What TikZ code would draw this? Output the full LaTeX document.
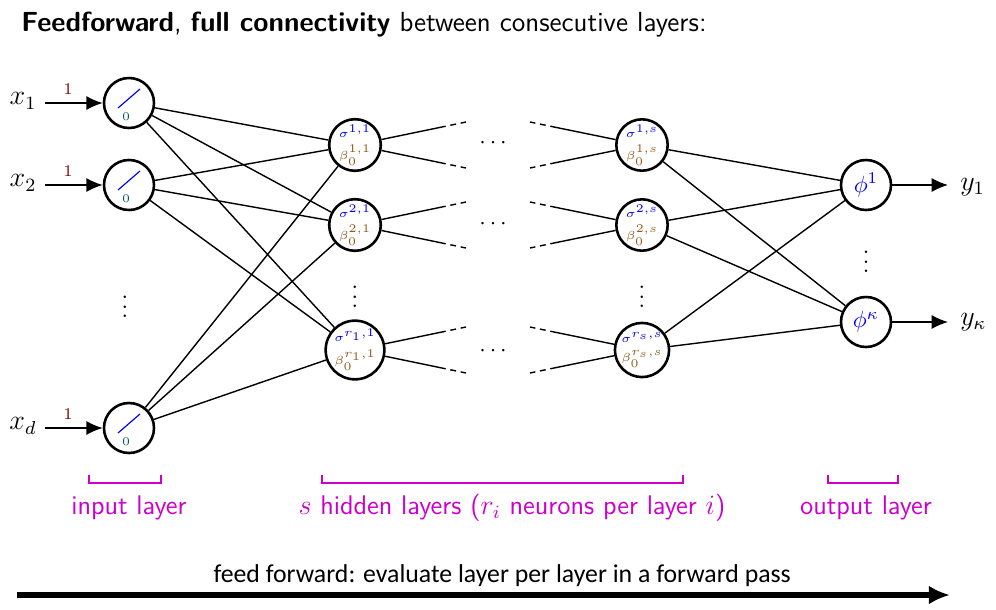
\documentclass[tikz,border=0pt]{standalone}
\usepackage{amsmath}
\usepackage{fontspec}
\newfontfamily\passfont{Carlito}
\usetikzlibrary{calc, positioning}
\usetikzlibrary{arrows.meta}

\definecolor{layermag}{RGB}{204,0,204}
\definecolor{wred}{RGB}{128,0,0}
\definecolor{betacol}{RGB}{140,90,20}
\definecolor{biascol}{RGB}{0,80,110}

\newcommand{\neurlab}[1]{\shortstack{$\color{blue}\sigma^{#1}$\\[0.5pt]$\color{betacol}\beta_0^{#1}$}}

\tikzset{
  neuron/.style={circle, draw, line width=1.1pt, minimum size=0.75cm, inner sep=0pt},
  conn/.style={line width=0.6pt},
  stub/.style={line width=0.6pt, dash pattern=on 2.5pt off 2pt},
  arr/.style={line width=0.6pt, -{Latex[length=7pt, width=6pt]}},
  brk/.style={draw=layermag, line width=1.2pt},
  brklab/.style={text=layermag, font=\sffamily\fontsize{11.5}{14}\selectfont}
}

\begin{document}
\begin{tikzpicture}[x=0.015cm, y=-0.015cm]
\useasboundingbox (0,0) rectangle (996,610);

% Title
\node[anchor=west, font=\sffamily\fontsize{11.8}{14}\selectfont] (title) at (13,25)
  {\textbf{Feedforward}, \textbf{full connectivity} between consecutive layers:};

% Input layer
\foreach \n/\y/\lab in {1/103/x_1, 2/185/x_2, d/428/x_d} {
  \node[neuron] (i\n) at (129,\y) {};
  \draw[blue, line width=0.5pt] ($(i\n)+(-11,5)$) -- ($(i\n)+(11,-14)$);
  \node[font=\tiny, text=biascol] (b\n) at ($(i\n)+(-3,14)$) {$0$};
  \node[font=\large] (x\n) at (23,\y-2) {$\lab$};
  \coordinate (xs\n) at (45,\y);
  \draw[arr] (xs\n) -- node[above, pos=0.4, font=\scriptsize, text=wred] {$1$} (i\n);
}
\node (idots) at (125,300) {$\vdots$};

% First hidden layer
\foreach \k/\y/\lbl in {1/145/{1,1}, 2/225/{2,1}, r/350/{r_1,1}} {
  \node[neuron, font=\tiny] (ha\k) at (355,\y) {\neurlab{\lbl}};
  \coordinate (sa\k u) at (440,\y-17.6);
  \coordinate (ta\k u) at (466,\y-23);
  \coordinate (sa\k d) at (440,\y+17.6);
  \coordinate (ta\k d) at (466,\y+23);
  \draw[conn] (ha\k) -- (sa\k u);
  \draw[stub] (sa\k u) -- (ta\k u);
  \draw[conn] (ha\k) -- (sa\k d);
  \draw[stub] (sa\k d) -- (ta\k d);
}
\node (hadots) at (355,290) {$\vdots$};

% Last hidden layer
\foreach \k/\y/\lbl in {1/145/{1,s}, 2/225/{2,s}, r/350/{r_s,s}} {
  \node[neuron, font=\tiny] (hs\k) at (642,\y) {\neurlab{\lbl}};
  \coordinate (ss\k u) at (556,\y-17.6);
  \coordinate (ts\k u) at (530,\y-23);
  \coordinate (ss\k d) at (556,\y+17.6);
  \coordinate (ts\k d) at (530,\y+23);
  \draw[conn] (hs\k) -- (ss\k u);
  \draw[stub] (ss\k u) -- (ts\k u);
  \draw[conn] (hs\k) -- (ss\k d);
  \draw[stub] (ss\k d) -- (ts\k d);
}
\node (hsdots) at (642,290) {$\vdots$};

% Dots between the hidden layers
\node (m1) at (495,143) {$\cdots$};
\node (m2) at (495,224) {$\cdots$};
\node (mr) at (495,351) {$\cdots$};

% Output layer
\node[neuron] (o1) at (866,185) {$\color{blue}\phi^1$};
\node[neuron] (ok) at (866,322) {$\color{blue}\phi^\kappa$};
\node (odots) at (866,255) {$\vdots$};
\coordinate (ye1) at (948,185);
\coordinate (yek) at (948,322);
\draw[arr] (o1) -- (ye1);
\draw[arr] (ok) -- (yek);
\node[font=\large, anchor=west] (y1) at (952,187) {$y_1$};
\node[font=\large, anchor=west] (yk) at (952,322) {$y_\kappa$};

% Full connectivity
\foreach \a in {1,2,d}
  \foreach \b in {1,2,r}
    \draw[conn] (i\a) -- (ha\b);
\foreach \a in {1,2,r}
  \foreach \b in {1,k}
    \draw[conn] (hs\a) -- (o\b);

% Layer brackets
\draw[brk] (89,475) -- (89,483) -- (161,483) -- (161,475);
\draw[brk] (322,475) -- (322,483) -- (683,483) -- (683,475);
\draw[brk] (828,475) -- (828,483) -- (898,483) -- (898,475);
\node[brklab] (inlab) at (129,508) {input layer};
\node[brklab] (hidlab) at (512,508) {$s$ hidden layers ($r_i$ neurons per layer $i$)};
\node[brklab] (outlab) at (866,508) {output layer};

% Forward pass
\coordinate (fa) at (17,595);
\coordinate (fb) at (950,595);
\draw[line width=2.2pt, -{Latex[length=9pt, width=8pt]}] (fa) --
  node[above=-1pt, font=\passfont\fontsize{11}{13}\selectfont, pos=0.52] (passlab) {feed forward: evaluate layer per layer in a forward pass} (fb);
\end{tikzpicture}
\end{document}
